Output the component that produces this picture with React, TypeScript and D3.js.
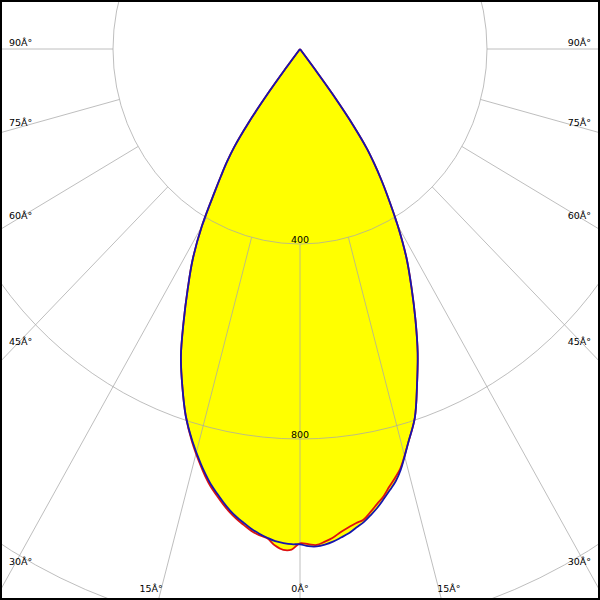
import React from "react";
import * as d3 from "d3";

// Polar angles (degrees from nadir) at which intensities were read
const ANGLES = [0, 1, 2, 3, 4, 5, 6, 7, 8, 9, 10, 11, 12, 13, 14, 16, 18, 20, 22, 24, 26, 28, 30, 32, 33, 34, 35, 36, 37, 37.5, 38];
// Blue curve (plane A), right and left halves (cd)
const BLUE_RIGHT = [1016, 1020, 1021, 1018, 1013, 1006, 999, 989, 980, 968, 955, 940, 925, 910, 890, 840, 795, 732, 672, 607, 544, 485, 418, 350, 318, 285, 250, 195, 115, 55, 0];
const BLUE_LEFT = [1016, 1016, 1014, 1011, 1005, 998, 990, 980, 970, 958, 944, 929, 914, 896, 877, 836, 791, 736, 680, 612, 548, 489, 420, 342, 310, 280, 245, 190, 110, 50, 0];
// Red curve (plane B)
const RED_RIGHT = [1014, 1016, 1018, 1012, 1005, 995, 987, 980, 975, 962, 948, 935, 918, 903, 887, 840, 795, 732, 672, 607, 544, 485, 418, 350, 318, 285, 250, 195, 115, 55, 0];
const RED_LEFT = [1014, 1027, 1028, 1020, 1006, 1001, 994, 984, 974, 962, 948, 933, 918, 900, 880, 838, 791, 736, 680, 612, 548, 489, 420, 342, 310, 280, 245, 190, 110, 50, 0];

const RINGS = [400, 800, 1200];
const RING_LABELS = ["400", "800", "1200"];
const ANGLE_TICKS = [-90, -75, -60, -45, -30, -15, 0, 15, 30, 45, 60, 75, 90];
const ANGLE_LABELS = ANGLE_TICKS.map((a) => `${Math.abs(a)}Â°`);

const W = 600;
const H = 600;
const CX = 300;
const CY = 49;
const rx = d3.scaleLinear().domain([0, 400]).range([0, 187]);
const ry = d3.scaleLinear().domain([0, 400]).range([0, 195]);

const toXY = (deg: number, v: number): [number, number] => {
  const t = (deg * Math.PI) / 180;
  return [CX + rx(v) * Math.sin(t), CY + ry(v) * Math.cos(t)];
};

function curvePoints(left: number[], right: number[]): [number, number][] {
  const pts: [number, number][] = [[CX, CY]];
  for (let i = ANGLES.length - 2; i >= 1; i--) pts.push(toXY(-ANGLES[i], left[i]));
  pts.push(toXY(0, (left[0] + right[0]) / 2));
  for (let i = 1; i < ANGLES.length - 1; i++) pts.push(toXY(ANGLES[i], right[i]));
  pts.push([CX, CY]);
  return pts;
}

const line = d3.line<[number, number]>().curve(d3.curveCatmullRom.alpha(0.5));

export default function App() {
  const blue = line(curvePoints(BLUE_LEFT, BLUE_RIGHT)) || "";
  const red = line(curvePoints(RED_LEFT, RED_RIGHT)) || "";
  const font = "DejaVu Sans, Verdana, sans-serif";
  const fs = 9.5;

  const rays = ANGLE_TICKS.map((a) => {
    const [x1, y1] = toXY(a, 400);
    const [x2, y2] = toXY(a, 2400);
    return { a, x1, y1, x2, y2 };
  });

  const angleLabels = ANGLE_TICKS.map((a, i) => {
    const abs = Math.abs(a);
    if (abs >= 30) {
      const t = (abs * Math.PI) / 180;
      const dx = 300 - 12.5;
      const dy = abs === 90 ? 0 : (dx * ry(1) * Math.cos(t)) / (rx(1) * Math.sin(t));
      const y = CY + dy - 3.5;
      return a < 0
        ? { x: 9, y, anchor: "start", text: ANGLE_LABELS[i] }
        : { x: 591, y, anchor: "end", text: ANGLE_LABELS[i] };
    }
    const [x] = toXY(a, 1230);
    return { x, y: 592, anchor: "middle", text: ANGLE_LABELS[i] };
  });

  const ringLabels = RINGS.map((r, i) => ({ r, y: CY + ry(r) - 1.5, text: RING_LABELS[i] })).filter(
    (d) => d.y < H - 12
  );

  return (
    <svg
      width={W}
      height={H}
      style={{ position: "absolute", left: 0, top: 0, background: "#fff" }}
    >
      <rect x={0} y={0} width={W} height={H} fill="#fff" />
      <path d={red} fill="#ffff00" stroke="none" />
      <path d={blue} fill="#ffff00" stroke="none" />
      <g stroke="#a8a8a8" strokeOpacity={0.75} fill="none" strokeWidth={1}>
        {RINGS.map((r) => (
          <ellipse key={r} cx={CX} cy={CY} rx={rx(r)} ry={ry(r)} />
        ))}
        {rays.map((r) => (
          <line key={r.a} x1={r.x1} y1={r.y1} x2={r.x2} y2={r.y2} />
        ))}
      </g>
      {ringLabels.map((d) => (
        <text
          key={d.r}
          x={CX}
          y={d.y}
          textAnchor="middle"
          fontFamily={font}
          fontSize={fs}
          fill="#000"
        >
          {d.text}
        </text>
      ))}
      {angleLabels.map((l, i) => (
        <text
          key={i}
          x={l.x}
          y={l.y}
          textAnchor={l.anchor as any}
          fontFamily={font}
          fontSize={fs}
          fill="#000"
        >
          {l.text}
        </text>
      ))}
      <path d={red} fill="none" stroke="#dd1111" strokeWidth={1.8} />
      <path d={blue} fill="none" stroke="#1515b0" strokeWidth={1.8} />
      <rect x={1} y={1} width={W - 2} height={H - 2} fill="none" stroke="#000" strokeWidth={2} />
    </svg>
  );
}
